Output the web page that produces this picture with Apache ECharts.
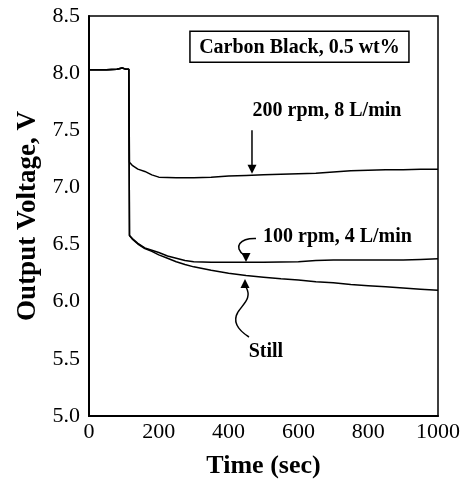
<!DOCTYPE html>
<html>
<head>
<meta charset="utf-8">
<script src="https://cdn.jsdelivr.net/npm/echarts@6/dist/echarts.min.js"></script>
<style>
html,body{margin:0;padding:0;background:#fff;}
#c{width:465px;height:484px;}
</style>
</head>
<body>
<div id="c"></div>
<script>
// Time (sec)
var timePre = [0, 20, 50, 80, 95, 105, 114];
var voltPre = [8.03, 8.03, 8.03, 8.035, 8.045, 8.035, 8.035];

var time200 = [116, 125, 140, 160, 180, 200, 250, 300, 350, 400, 450, 500, 550, 600, 650, 700, 750, 800, 850, 900, 950, 1000];
var volt200 = [7.22, 7.19, 7.16, 7.14, 7.11, 7.09, 7.085, 7.085, 7.09, 7.10, 7.105, 7.11, 7.115, 7.12, 7.125, 7.135, 7.145, 7.15, 7.155, 7.155, 7.16, 7.16];

var time100 = [116, 125, 140, 160, 180, 200, 225, 250, 275, 300, 350, 400, 500, 600, 650, 700, 800, 900, 950, 1000];
var volt100 = [6.58, 6.55, 6.51, 6.47, 6.45, 6.43, 6.40, 6.38, 6.36, 6.35, 6.345, 6.345, 6.345, 6.35, 6.36, 6.365, 6.365, 6.365, 6.37, 6.375];

var timeStill = [116, 125, 140, 160, 180, 200, 225, 250, 275, 300, 325, 350, 400, 450, 500, 550, 600, 650, 700, 750, 800, 850, 900, 950, 1000];
var voltStill = [6.58, 6.545, 6.505, 6.465, 6.44, 6.41, 6.38, 6.35, 6.325, 6.305, 6.29, 6.275, 6.25, 6.23, 6.215, 6.20, 6.19, 6.175, 6.165, 6.15, 6.14, 6.13, 6.12, 6.11, 6.10];

var xTicks = [0, 200, 400, 600, 800, 1000];
var yTicks = [5.0, 5.5, 6.0, 6.5, 7.0, 7.5, 8.0, 8.5];

function pairs(t, v) { return t.map(function (x, i) { return [x, v[i]]; }); }
function withPre(t, v) { return pairs(timePre, voltPre).concat(pairs(t, v)); }

var FONT = '"Liberation Serif", "Times New Roman", serif';
var chart = echarts.init(document.getElementById('c'), null, {renderer: 'canvas'});

var lineStyle = {color: '#000', width: 1.5};
chart.setOption({
  animation: false,
  backgroundColor: '#fff',
  grid: {left: 89, right: 27, top: 16, bottom: 68, show: true, borderColor: '#000', borderWidth: 1.5},
  xAxis: {
    type: 'value', min: 0, max: 1000, interval: 200,
    name: 'Time (sec)', nameLocation: 'middle', nameGap: 37,
    nameTextStyle: {fontFamily: FONT, fontWeight: 'bold', fontSize: 26, color: '#000'},
    axisLine: {show: true, lineStyle: {color: '#000', width: 2}},
    axisTick: {show: false},
    splitLine: {show: false},
    axisLabel: {fontFamily: FONT, fontSize: 22, color: '#000', margin: 5,
      formatter: function (v) { return xTicks.indexOf(v) >= 0 ? String(v) : ''; }}
  },
  yAxis: {
    type: 'value', min: 5.0, max: 8.5, interval: 0.5,
    name: 'Output Voltage, V', nameLocation: 'middle', nameGap: 47,
    nameTextStyle: {fontFamily: FONT, fontWeight: 'bold', fontSize: 27, color: '#000'},
    axisLine: {show: true, lineStyle: {color: '#000', width: 2}},
    axisTick: {show: false},
    splitLine: {show: false},
    axisLabel: {fontFamily: FONT, fontSize: 22, color: '#000', margin: 9,
      formatter: function (v) {
        var s = v.toFixed(1);
        return yTicks.map(function (y) { return y.toFixed(1); }).indexOf(s) >= 0 ? s : '';
      }}
  },
  series: [
    {type: 'line', name: '200 rpm, 8 L/min', data: withPre(time200, volt200), showSymbol: false, lineStyle: lineStyle},
    {type: 'line', name: '100 rpm, 4 L/min', data: withPre(time100, volt100), showSymbol: false, lineStyle: lineStyle},
    {type: 'line', name: 'Still', data: withPre(timeStill, voltStill), showSymbol: false, lineStyle: lineStyle}
  ]
});

function P(x, y) { return chart.convertToPixel({gridIndex: 0}, [x, y]); }

var tf = {fontFamily: FONT, fontWeight: 'bold', fontSize: 20, fill: '#000'};
function txt(x, y, s, align) {
  return {type: 'text', x: x, y: y, style: Object.assign({text: s, align: align || 'center', verticalAlign: 'middle'}, tf)};
}
function head(tipX, tipY, dir) {
  var w = 4.5, h = 9;
  var s = dir === 'down' ? -1 : 1;
  return {type: 'polygon', shape: {points: [[tipX, tipY], [tipX - w, tipY + s * h], [tipX + w, tipY + s * h]]}, style: {fill: '#000'}};
}
function curve(x1, y1, c1x, c1y, c2x, c2y, x2, y2) {
  return {type: 'bezierCurve', shape: {x1: x1, y1: y1, cpx1: c1x, cpy1: c1y, cpx2: c2x, cpy2: c2y, x2: x2, y2: y2}, style: {stroke: '#000', lineWidth: 1.5, fill: null}};
}

var a200top = P(467, 7.50), a200tip = P(467, 7.11);
var lab200 = P(682, 7.67);
var lab100 = P(712, 6.566);
var labStill = P(507, 5.56);
var box = P(603, 8.23);

var graphics = [
  {type: 'rect', shape: {x: box[0] - 109.5, y: box[1] - 15.5, width: 219, height: 31}, style: {fill: '#fff', stroke: '#000', lineWidth: 1.5}},
  txt(box[0], box[1] + 0.5, 'Carbon Black, 0.5 wt%'),
  txt(lab200[0], lab200[1], '200 rpm, 8 L/min'),
  {type: 'line', shape: {x1: a200top[0], y1: a200top[1], x2: a200tip[0], y2: a200tip[1] - 6}, style: {stroke: '#000', lineWidth: 1.5}},
  head(a200tip[0], a200tip[1] - 1, 'down'),
  txt(lab100[0], lab100[1], '100 rpm, 4 L/min'),
  curve(256, 238.5, 240, 238, 233, 247, 244, 255),
  head(246, 262, 'down'),
  txt(labStill[0], labStill[1], 'Still'),
  curve(249, 337, 238, 330, 232, 322, 238, 312),
  curve(238, 312, 244, 303, 252, 298, 246, 287),
  head(245, 279, 'up')
];
chart.setOption({graphic: graphics});
</script>
</body>
</html>
